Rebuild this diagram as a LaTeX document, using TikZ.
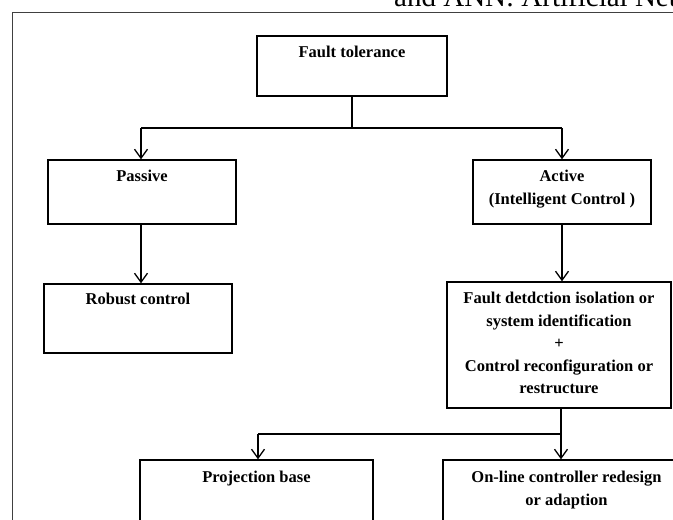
\documentclass[tikz,border=0pt]{standalone}
\usepackage{fontspec}
\setmainfont{Liberation Serif}
\usetikzlibrary{arrows.meta}
\begin{document}
\begin{tikzpicture}[x=1pt,y=-1pt,
  box/.style={draw=black,line width=1.4pt,rectangle,inner sep=0pt},
  lbl/.style={anchor=north,inner sep=0pt,align=center,font=\fontsize{16.5}{22.5}\selectfont\bfseries},
  arr/.style={line width=1.3pt,-{Straight Barb[length=9pt,width=13pt,line width=1.3pt]}},
  ln/.style={line width=1.3pt}]
\useasboundingbox (0,0) rectangle (673,520);
\clip (0,0) rectangle (673,520);
% page context
\node[anchor=base west,inner sep=0pt,font=\fontsize{29}{32}\selectfont] (pagetext) at (394,6) {and ANN: Artificial Net};
\coordinate (frameA) at (12,520);
\coordinate (frameB) at (12,12);
\coordinate (frameC) at (680,12);
\draw[line width=0.9pt,black!75] (frameA) -- (frameB) -- (frameC);
% boxes
\node[box,minimum width=190pt,minimum height=60pt] (ft) at (352,66) {};
\node[box,minimum width=188pt,minimum height=64pt] (passive) at (142,192) {};
\node[box,minimum width=178pt,minimum height=64pt] (active) at (562,192) {};
\node[box,minimum width=188pt,minimum height=69pt] (robust) at (138,318.5) {};
\node[box,minimum width=224pt,minimum height=126pt] (fd) at (559,345) {};
\node[box,minimum width=233pt,minimum height=80pt] (proj) at (256.5,500) {};
\node[box,minimum width=247pt,minimum height=80pt] (online) at (566.5,500) {};
% labels
\node[lbl] (ftl) at ([yshift=-11pt]ft.north) {Fault tolerance};
\node[lbl] (passivel) at ([yshift=-11pt]passive.north) {Passive};
\node[lbl] (activel) at ([yshift=-11pt]active.north) {Active\\(Intelligent Control )};
\node[lbl] (robustl) at ([yshift=-10pt]robust.north) {Robust control};
\node[lbl] (fdl) at ([yshift=-11pt]fd.north) {Fault detdction isolation or\\system identification\\+\\Control reconfiguration or\\restructure};
\node[lbl] (projl) at ([yshift=-12pt]proj.north) {Projection base};
\node[lbl] (onlinel) at ([yshift=-12pt]online.north) {On-line controller redesign\\or adaption};
% connectors
\coordinate (j1) at (352,128);
\coordinate (j1l) at (141,128);
\coordinate (j1r) at (562,128);
\draw[ln] (ft.south) -- (j1);
\draw[ln] (j1l) -- (j1r);
\draw[arr] (j1l) -- (j1l |- passive.north);
\draw[arr] (j1r) -- (j1r |- active.north);
\coordinate (p1) at (141,224);
\draw[arr] (p1) -- (p1 |- robust.north);
\draw[arr] (active.south) -- (active.south |- fd.north);
\coordinate (f1) at (561,408);
\coordinate (j2) at (561,434);
\coordinate (j2l) at (258,434);
\draw[arr] (f1) -- (f1 |- online.north);
\draw[ln] (j2) -- (j2l);
\draw[arr] (j2l) -- (j2l |- proj.north);
\end{tikzpicture}
\end{document}
